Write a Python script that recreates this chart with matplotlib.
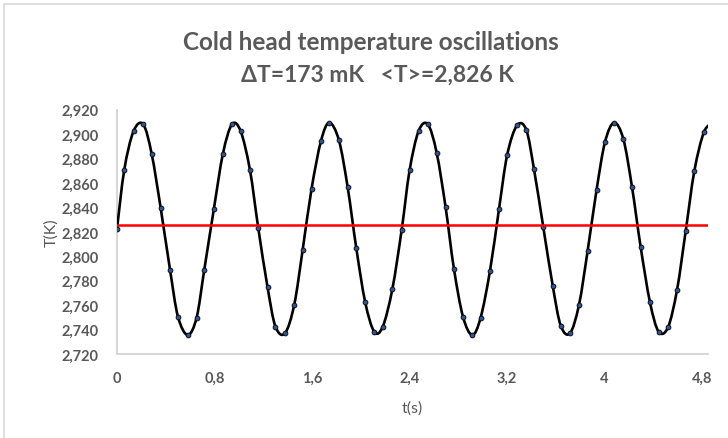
import numpy as np
import matplotlib
matplotlib.use("Agg")
import matplotlib.pyplot as plt
from matplotlib.path import Path
from matplotlib.patches import PathPatch, Rectangle

# data
t_s = [0.000, 0.060, 0.136, 0.215, 0.284, 0.358, 0.435, 0.500, 0.580, 0.653,
       0.716, 0.795, 0.869, 0.943, 1.014, 1.090, 1.159, 1.235, 1.300, 1.378,
       1.454, 1.523, 1.596, 1.673, 1.741, 1.820, 1.892, 1.963, 2.036, 2.110,
       2.180, 2.259, 2.335, 2.400, 2.474, 2.550, 2.622, 2.695, 2.764, 2.838,
       2.914, 2.983, 3.060, 3.133, 3.201, 3.281, 3.357, 3.420, 3.497, 3.574,
       3.640, 3.716, 3.790, 3.861, 3.934, 4.003, 4.077, 4.153, 4.224, 4.295,
       4.372, 4.443, 4.520, 4.594, 4.665, 4.736, 4.815, 4.888]
temp_k = [2.8225, 2.8710, 2.9025, 2.9080, 2.8840, 2.8397, 2.7890, 2.7506, 2.7356, 2.7498,
          2.7890, 2.8390, 2.8840, 2.9080, 2.9025, 2.8710, 2.8230, 2.7747, 2.7424, 2.7370,
          2.7604, 2.8052, 2.8552, 2.8943, 2.9093, 2.8951, 2.8566, 2.8066, 2.7624, 2.7383,
          2.7424, 2.7733, 2.8216, 2.8703, 2.9025, 2.9080, 2.8848, 2.8405, 2.7897, 2.7506,
          2.7356, 2.7498, 2.7883, 2.8383, 2.8831, 2.9071, 2.9036, 2.8716, 2.8238, 2.7760,
          2.7432, 2.7370, 2.7604, 2.8047, 2.8544, 2.8935, 2.9093, 2.8962, 2.8571, 2.8080,
          2.7624, 2.7383, 2.7419, 2.7725, 2.8206, 2.8698, 2.9017, 2.9090]
t_mean = 2.826
x_ticks = [0, 0.8, 1.6, 2.4, 3.2, 4.0, 4.8]
y_ticks = [2.72, 2.74, 2.76, 2.78, 2.80, 2.82, 2.84, 2.86, 2.88, 2.90, 2.92]

gray = "#595959"
plt.rcParams["font.family"] = ["Lato", "DejaVu Sans"]

fig = plt.figure(figsize=(7.28, 4.39), dpi=100)
ax = fig.add_axes([117/728, 1 - 355/439, (708 - 117)/728, (355 - 110.7)/439])

# smooth line (Excel style) drawn as bezier curve through the points
x = np.array(t_s)
y = np.array(temp_k)
verts = [(x[0], y[0])]
codes = [Path.MOVETO]
for i in range(len(x) - 1):
    p0 = (x[max(i - 1, 0)], y[max(i - 1, 0)])
    p1 = (x[i], y[i])
    p2 = (x[i + 1], y[i + 1])
    p3 = (x[min(i + 2, len(x) - 1)], y[min(i + 2, len(x) - 1)])
    c1 = (p1[0] + (p2[0] - p0[0]) / 6, p1[1] + (p2[1] - p0[1]) / 6)
    c2 = (p2[0] - (p3[0] - p1[0]) / 6, p2[1] - (p3[1] - p1[1]) / 6)
    verts += [c1, c2, p2]
    codes += [Path.CURVE4] * 3
ax.add_patch(PathPatch(Path(verts, codes), fill=False, edgecolor="black", lw=1.9, zorder=3))
ax.plot(t_s, temp_k, ls="none", marker="o", ms=3.4, mfc="#2f5597", mec="#111111",
        mew=0.7, zorder=4)
ax.axhline(t_mean, color="#ff0000", lw=1.8, zorder=5)

ax.set_xlim(0, 4.848)
ax.set_ylim(2.72, 2.92)
ax.set_xticks(x_ticks)
ax.set_xticklabels([f"{v:g}".replace(".", ",") for v in x_ticks])
ax.set_yticks(y_ticks)
ax.set_yticklabels([f"{v:.3f}".replace(".", ",") for v in y_ticks])
ax.tick_params(length=0, labelsize=10.5, labelcolor=gray)
ax.tick_params(axis="y", pad=13)
ax.tick_params(axis="x", pad=12)
for lab in ax.get_xticklabels() + ax.get_yticklabels():
    lab.set_fontweight("bold")
for side in ["top", "right"]:
    ax.spines[side].set_visible(False)
for side in ["left", "bottom"]:
    ax.spines[side].set_color("#d0d0d0")
    ax.spines[side].set_linewidth(1.2)

ax.set_xlabel("t(s)", fontsize=11.5, color=gray, labelpad=11)
ax.set_ylabel("T(K)", fontsize=11.5, color=gray, labelpad=2)

fig.text(371/728, 1 - 42/439, "Cold head temperature oscillations", ha="center",
         va="center", fontsize=17.5, fontweight="bold", color=gray)
fig.text(377/728, 1 - 75/439, "ΔT=173 mK   <T>=2,826 K", ha="center",
         va="center", fontsize=16.5, fontweight="bold", color=gray)

fig.patches.append(Rectangle((4/728, -0.1), 1.2, 1 - 5/439 + 0.1, transform=fig.transFigure,
                             fill=False, edgecolor="#d9d9d9", lw=1.2))

fig.savefig("out.png", dpi=100)
